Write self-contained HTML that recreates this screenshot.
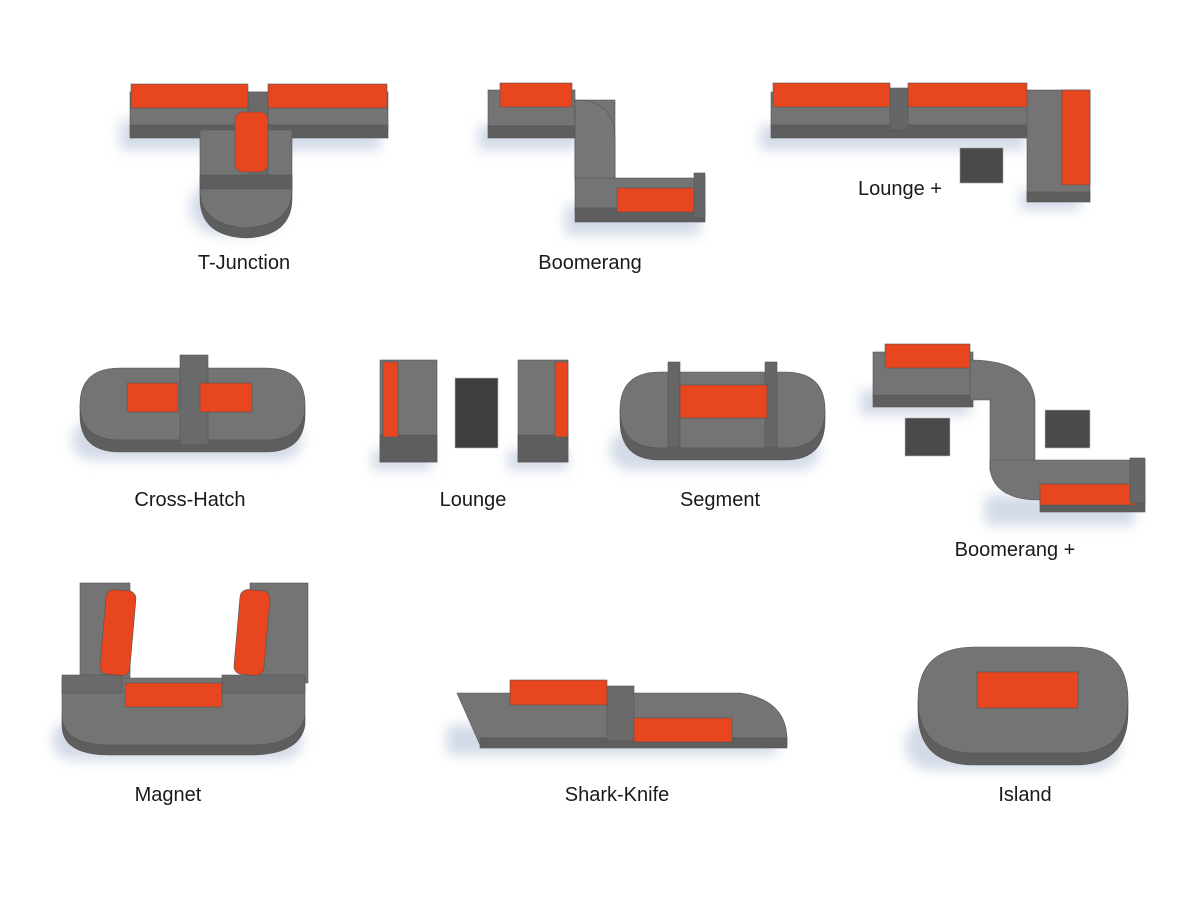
<!DOCTYPE html>
<html><head><meta charset="utf-8"><style>
html,body{margin:0;padding:0;background:#fff;}
svg{display:block}
text{font-family:"Liberation Sans","DejaVu Sans",sans-serif;font-size:20px;fill:#1a1a1a;text-anchor:middle}
</style></head><body>
<svg width="1200" height="900" viewBox="0 0 1200 900" xmlns="http://www.w3.org/2000/svg">
<defs>
<filter id="b" x="-20%" y="-20%" width="140%" height="140%"><feGaussianBlur stdDeviation="6"/></filter>
</defs>
<!-- shadows -->
<g fill="#c7d1e2" filter="url(#b)" opacity="0.8">
<rect x="120" y="120" width="260" height="30"/><rect x="190" y="180" width="95" height="55" rx="30"/>
<rect x="478" y="125" width="100" height="25"/><rect x="565" y="205" width="135" height="30"/>
<rect x="760" y="125" width="265" height="25"/><rect x="1020" y="190" width="60" height="20"/>
<rect x="72" y="420" width="230" height="40" rx="20"/>
<rect x="372" y="450" width="60" height="20"/><rect x="508" y="450" width="60" height="20"/>
<rect x="610" y="430" width="210" height="40" rx="20"/>
<rect x="860" y="390" width="110" height="25"/><rect x="985" y="495" width="150" height="30"/>
<rect x="52" y="720" width="250" height="40" rx="20"/>
<rect x="447" y="725" width="330" height="30"/>
<rect x="905" y="720" width="215" height="50" rx="25"/>
</g>
<g stroke="#555" stroke-width="0.6">
<!-- T-Junction -->
<rect x="130" y="92" width="258" height="38" fill="#747474"/>
<rect x="130" y="125" width="258" height="13" fill="#5e5e5e"/>
<path d="M200 130 H292 V190 Q292 225 246 228 Q200 225 200 190 Z" fill="#747474"/>
<path d="M200 190 Q200 225 246 228 Q292 225 292 190 V198 Q292 236 246 238 Q200 236 200 198Z" fill="#5e5e5e"/>
<rect x="248" y="92" width="20" height="90" fill="#6a6a6a"/>
<rect x="200" y="175" width="92" height="14" fill="#5e5e5e"/>
<rect x="131" y="84" width="117" height="24" fill="#e8461e"/>
<rect x="268" y="84" width="119" height="24" fill="#e8461e"/>
<rect x="235" y="112" width="33" height="60" rx="8" fill="#e8461e"/>
<!-- Boomerang -->
<rect x="488" y="90" width="87" height="40" fill="#747474"/>
<rect x="488" y="126" width="87" height="12" fill="#5e5e5e"/>
<path d="M575 100 Q615 105 615 145 V180 H575 Z" fill="#747474"/>
<rect x="575" y="100" width="40" height="80" fill="#747474"/>
<path d="M575 100 Q615 100 615 140 V180 H575 Z" fill="#777"/>
<rect x="575" y="178" width="130" height="34" fill="#747474"/>
<rect x="575" y="208" width="130" height="14" fill="#5e5e5e"/>
<rect x="500" y="83" width="72" height="24" fill="#e8461e"/>
<rect x="617" y="188" width="77" height="24" fill="#e8461e"/>
<rect x="694" y="173" width="11" height="45" fill="#666"/>
<!-- Lounge + -->
<rect x="771" y="92" width="260" height="36" fill="#747474"/>
<rect x="771" y="125" width="260" height="13" fill="#5e5e5e"/>
<rect x="1027" y="90" width="63" height="110" fill="#747474"/>
<rect x="1027" y="192" width="63" height="10" fill="#5e5e5e"/>
<rect x="773" y="83" width="117" height="24" fill="#e8461e"/>
<rect x="908" y="83" width="119" height="24" fill="#e8461e"/>
<rect x="1062" y="90" width="28" height="95" fill="#e8461e"/>
<rect x="890" y="88" width="18" height="42" fill="#666"/>
<rect x="960" y="148" width="43" height="35" fill="#4a4a4a" stroke="#999"/>
<!-- Cross-Hatch -->
<path d="M120 368 H265 Q305 368 305 405 Q305 440 265 440 H120 Q80 440 80 405 Q80 368 120 368Z" fill="#747474"/>
<path d="M80 405 Q80 440 120 440 H265 Q305 440 305 405 V415 Q305 452 265 452 H120 Q80 452 80 415Z" fill="#5e5e5e"/>
<rect x="180" y="355" width="28" height="90" fill="#6a6a6a"/>
<rect x="127" y="383" width="51" height="29" fill="#e8461e"/>
<rect x="200" y="383" width="52" height="29" fill="#e8461e"/>
<!-- Lounge -->
<rect x="380" y="360" width="57" height="102" fill="#747474"/>
<rect x="380" y="435" width="57" height="27" fill="#5e5e5e"/>
<rect x="383" y="362" width="15" height="75" fill="#e8461e"/>
<rect x="455" y="378" width="43" height="70" fill="#3f3f3f" stroke="#bbb"/>
<rect x="518" y="360" width="50" height="102" fill="#747474"/>
<rect x="518" y="435" width="50" height="27" fill="#5e5e5e"/>
<rect x="555" y="362" width="13" height="75" fill="#e8461e"/>
<!-- Segment -->
<path d="M660 372 H785 Q825 372 825 410 Q825 448 785 448 H660 Q620 448 620 410 Q620 372 660 372Z" fill="#747474"/>
<path d="M620 410 Q620 448 660 448 H785 Q825 448 825 410 V420 Q825 460 785 460 H660 Q620 460 620 420Z" fill="#5e5e5e"/>
<rect x="668" y="362" width="12" height="85" fill="#666"/>
<rect x="765" y="362" width="12" height="85" fill="#666"/>
<rect x="680" y="385" width="87" height="33" fill="#e8461e"/>
<!-- Boomerang + -->
<rect x="873" y="352" width="100" height="45" fill="#747474"/>
<rect x="873" y="395" width="100" height="12" fill="#5e5e5e"/>
<path d="M970 360 Q1030 360 1035 400 V470 H990 V400 H970Z" fill="#747474"/>
<path d="M990 460 H1145 V500 H1040 Q995 500 990 470Z" fill="#747474"/>
<rect x="1040" y="498" width="105" height="14" fill="#5e5e5e"/>
<rect x="885" y="344" width="85" height="24" fill="#e8461e"/>
<rect x="1040" y="484" width="95" height="21" fill="#e8461e"/>
<rect x="1130" y="458" width="15" height="45" fill="#666"/>
<rect x="905" y="418" width="45" height="38" fill="#4a4a4a" stroke="#bbb"/>
<rect x="1045" y="410" width="45" height="38" fill="#4a4a4a" stroke="#bbb"/>
<!-- Magnet -->
<rect x="80" y="583" width="50" height="100" fill="#747474"/>
<rect x="250" y="583" width="58" height="100" fill="#747474"/>
<path d="M62 678 H305 V715 Q300 745 250 745 H110 Q62 745 62 715Z" fill="#747474"/>
<path d="M62 715 Q62 745 110 745 H250 Q300 745 305 715 V725 Q300 755 250 755 H110 Q62 755 62 725Z" fill="#5e5e5e"/>
<rect x="62" y="675" width="60" height="18" fill="#6a6a6a"/>
<rect x="222" y="675" width="83" height="18" fill="#6a6a6a"/>
<rect x="103" y="590" width="30" height="85" rx="8" fill="#e8461e" transform="rotate(5 118 632)"/>
<rect x="237" y="590" width="30" height="85" rx="8" fill="#e8461e" transform="rotate(5 252 632)"/>
<rect x="125" y="683" width="97" height="24" fill="#e8461e"/>
<!-- Shark-Knife -->
<path d="M457 693 H740 Q787 700 787 740 V745 H480 Z" fill="#747474"/>
<rect x="480" y="738" width="307" height="10" fill="#5e5e5e"/>
<rect x="607" y="686" width="27" height="55" fill="#6a6a6a"/>
<rect x="510" y="680" width="97" height="25" fill="#e8461e"/>
<rect x="634" y="718" width="98" height="24" fill="#e8461e"/>
<!-- Island -->
<path d="M975 647 H1075 Q1128 647 1128 700 Q1128 753 1075 753 H975 Q918 753 918 700 Q918 647 975 647Z" fill="#747474"/>
<path d="M918 700 Q918 753 975 753 H1075 Q1128 753 1128 700 V712 Q1128 765 1075 765 H975 Q918 765 918 712Z" fill="#5e5e5e"/>
<rect x="977" y="672" width="101" height="36" fill="#e8461e"/>
</g>
<text x="244" y="269">T-Junction</text>
<text x="590" y="269">Boomerang</text>
<text x="900" y="195">Lounge +</text>
<text x="190" y="506">Cross-Hatch</text>
<text x="473" y="506">Lounge</text>
<text x="720" y="506">Segment</text>
<text x="1015" y="556">Boomerang +</text>
<text x="168" y="801">Magnet</text>
<text x="617" y="801">Shark-Knife</text>
<text x="1025" y="801">Island</text>
</svg>
</body></html>
